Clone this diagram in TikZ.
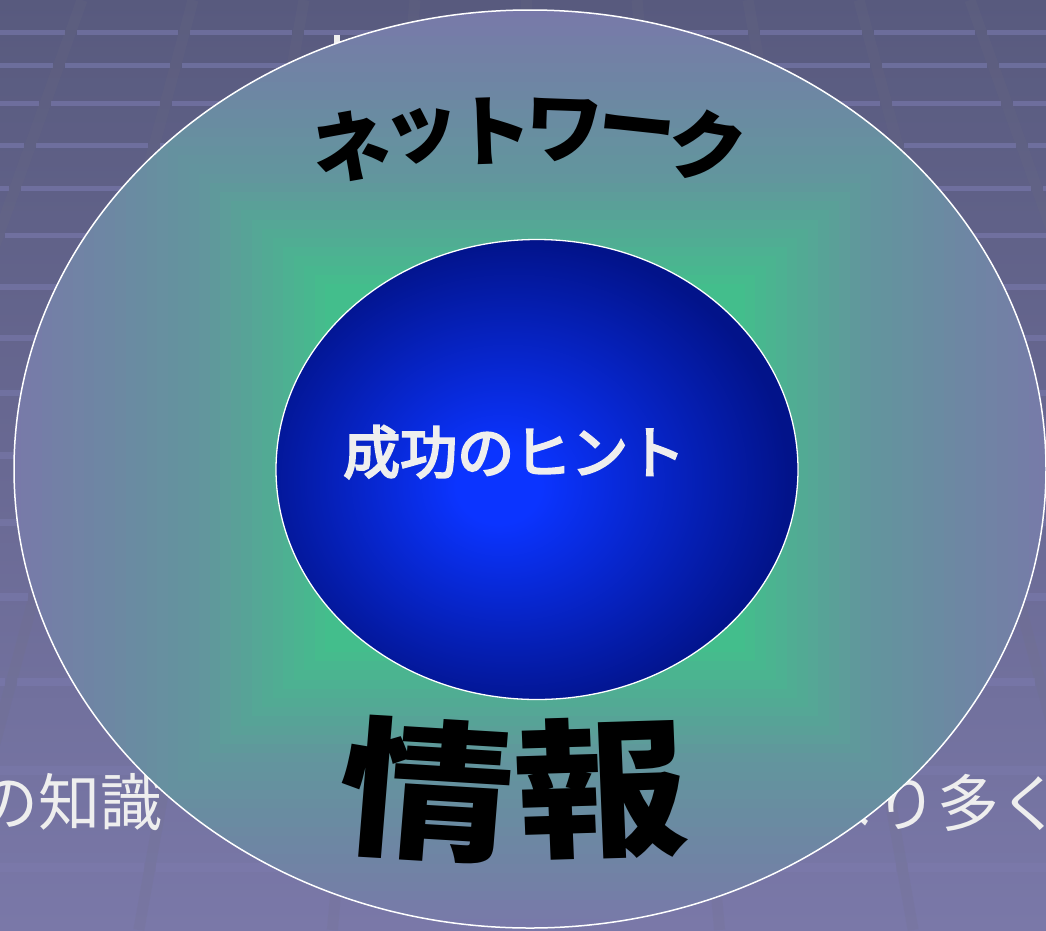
\documentclass[tikz,border=0pt]{standalone}
\usepackage{fontspec}
\newfontfamily\jp{Noto Sans CJK JP}
\newfontfamily\jpmid[FakeBold=4]{Noto Sans CJK JP}
\definecolor{bgtop}{HTML}{585A7E}
\definecolor{bgbot}{HTML}{7A78A8}
\definecolor{grn}{HTML}{43BE8C}
\definecolor{purp}{HTML}{7879A9}
\definecolor{lineclr}{HTML}{9090D0}
\definecolor{bandclr}{HTML}{707080}
\definecolor{bluein}{HTML}{0B34FF}
\definecolor{blueout}{HTML}{02138A}
\definecolor{txtwhite}{HTML}{EEEEEE}
\pgfdeclareradialshading{innerblue}{\pgfpoint{-4bp}{-2bp}}{color(0bp)=(bluein); color(4bp)=(bluein); color(26bp)=(blueout); color(50bp)=(blueout)}
\tikzset{
  bgword/.style={inner sep=0pt, text=txtwhite, font=\jp\fontsize{62}{62}\selectfont},
  hintword/.style={inner sep=0pt, text=txtwhite, font=\jpmid\fontsize{57}{57}\selectfont},
  netchar/.style={inner sep=0pt, text=black, font=\jp\bfseries\fontsize{78}{78}\selectfont},
  infochar/.style={inner sep=0pt, text=black, xscale=1.16, font=\jp\bfseries\fontsize{150}{150}\selectfont},
  rim/.style={draw=white, line width=1.5pt}
}
\begin{document}
\begin{tikzpicture}[x=1pt,y=-1pt]
\useasboundingbox (0,0) rectangle (1046,930);
\clip (0,0) rectangle (1046,930);
% background
\shade[top color=bgtop, bottom color=bgbot] (0,0) rectangle (1046,930);
% tile rows
\foreach \y/\w/\o in {32/5/0.35, 65/5/0.35, 103/5/0.35, 145/5/0.34, 188/5/0.33, 235/5/0.32, 287/6/0.3, 338/6/0.28, 393/6/0.26, 455/7/0.24, 522/7/0.22, 597/8/0.2, 682/8/0.18, 770/9/0.12, 867/9/0.1} {
  \pgfmathsetmacro\f{(\y+1250)/1250}
  \foreach \k in {-6,...,5} {
    \pgfmathsetmacro\xa{526+111*\k*\f+6}
    \pgfmathsetmacro\xb{526+111*(\k+1)*\f-6}
    \draw[line width=\w pt, draw=lineclr, opacity=\o] (\xa,\y) -- (\xb,\y);
  }
}
% tile joints
\foreach \k in {-6,...,6} {
  \draw[line width=11pt, draw=bandclr, opacity=0.15] ({526+111*\k},0) -- ({526+111*\k*1.744},930);
}
% hidden text fragment at top
\fill[txtwhite] (334,35) rectangle (340,47);
% background words
\node[bgword, anchor=east] (knowledge) at (163,802) {の知識};
\node[bgword, anchor=west] (more) at (815,803) {より多く};
% outer ellipse with rectangular gradient
\begin{scope}
  \clip (530,469) ellipse [x radius=516pt, y radius=459pt];
  \fill[purp] (0,0) rectangle (1046,930);
  \foreach \d in {1.00,0.98,...,0.39} {
    \pgfmathsetmacro\tt{\d>=0.64 ? 58+(\d-0.64)*116.67 : max(0,(\d-0.4)*241.67)}
    \fill[purp!\tt!grn] ({535-525*\d},{468-460*\d}) rectangle ({535+525*\d},{468+460*\d});
  }
\end{scope}
\draw[rim] (530,469) ellipse [x radius=516pt, y radius=459pt];
% inner ellipse
\shade[shading=innerblue] (537,469.5) ellipse [x radius=261pt, y radius=230pt];
\draw[rim, line width=1.3pt] (537,469.5) ellipse [x radius=261pt, y radius=230pt];
\node[hintword, anchor=west] (hint) at (343,452) {成功のヒント};
% arched word
\foreach \c [count=\i from 0] in {ネ,ッ,ト,ワ,ー,ク} {
  \pgfmathsetmacro\a{90+(2.5-\i)*4.1}
  \node[netchar, rotate=\a-90] (net\i) at ({529+1000*cos(\a)},{1130-1000*sin(\a)}) {\c};
}
% big word
\node[infochar, rotate=-4] (info1) at (427,790) {情};
\node[infochar, rotate=2] (info2) at (601,788) {報};
\end{tikzpicture}
\end{document}
